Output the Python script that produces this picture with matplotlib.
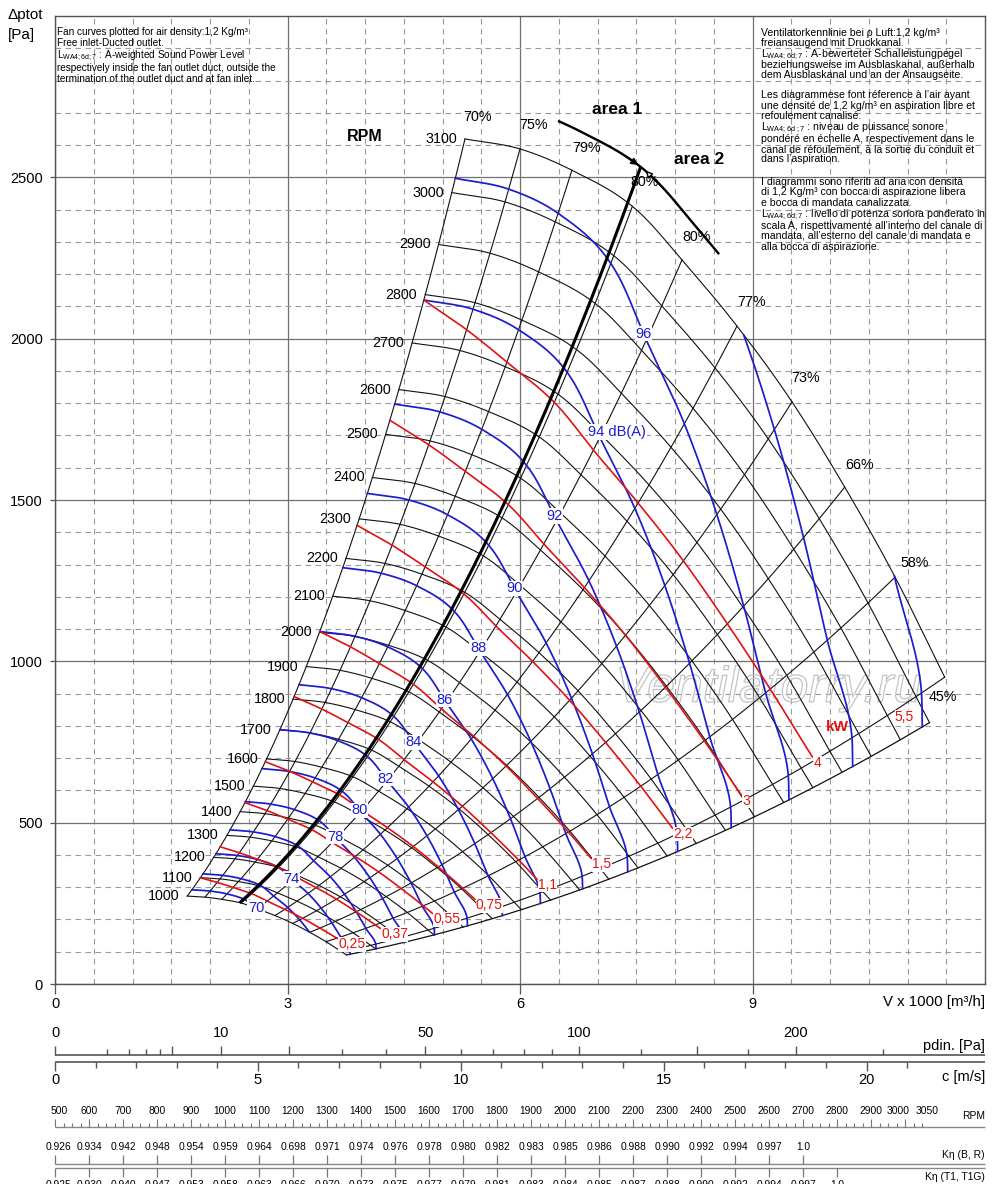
import numpy as np
import matplotlib
matplotlib.use('Agg')
import matplotlib.pyplot as plt
from matplotlib import patheffects, font_manager
from matplotlib.font_manager import FontProperties
from matplotlib.transforms import blended_transform_factory

plt.rcParams['font.family'] = ['Liberation Sans', 'DejaVu Sans']
plt.rcParams['mathtext.fontset'] = 'custom'
plt.rcParams['mathtext.rm'] = 'Liberation Sans'
plt.rcParams['mathtext.it'] = 'Liberation Sans:italic'
plt.rcParams['mathtext.bf'] = 'Liberation Sans:bold'

# ------------------------------------------------------------------ data
TOP_RPM = 3100
RPM_CURVES = list(range(1000, 3101, 100))
# fan curve at 3100 rpm (V x1000 m3/h, Pa)
BASE_FLOW = [5.29, 6.00, 6.67, 7.55, 8.09, 8.80, 9.51, 10.19, 10.84, 11.48, 11.66]
BASE_PRESSURE = [2619, 2588, 2522, 2389, 2244, 2039, 1804, 1540, 1261, 951, 865]
TOP_CURVE_END_FLOW = 11.48
BOTTOM_LINE_RPM = [1000, 3000]

# efficiency lines (where they meet the 3100 rpm curve)
EFF_FLOW = [5.29, 6.00, 6.67, 7.45, 8.09, 8.80, 9.51, 10.19, 10.84, 11.48]
EFF_LABELS = ['70%', '75%', '79%', '80%', '80%', '77%', '73%', '66%', '58%', '45%']

# area 1 / area 2 separation
AREA_LINE_FLOW = 7.39
AREA_ARC_RPM = 3170
AREA_ARC_FLOW = [6.36, 8.37]

# sound power level lines dB(A)
SOUND_LEVELS = [70, 72, 74, 76, 78, 80, 82, 84, 86, 88, 90, 92, 94, 96, 98, 100]
SOUND_RPM_AT_STALL = [1035, 1119, 1217, 1324, 1440, 1565, 1701, 1845, 2002,
                      2176, 2362, 2568, 2789, 3027, 3290, 3577]
SOUND_LABELED = [70, 74, 78, 80, 82, 84, 86, 88, 90, 92, 94, 96]
SOUND_RISE_FLOW = [5.29, 6.00, 6.67, 7.55, 8.09, 8.80, 9.51, 10.19, 10.84, 11.48, 11.66]
SOUND_RISE_DB = [0.0, 0.02, 0.08, 0.40, 0.83, 1.35, 2.00, 2.70, 3.43, 4.05, 4.40]
SOUND_LABEL_FLOW = 8.04

# absorbed power lines kW
POWER_KW = ['0,25', '0,37', '0,55', '0,75', '1,1', '1,5', '2,2', '3', '4', '5,5']
POWER_RPM_AT_STALL = [1099, 1249, 1436, 1590, 1808, 2002, 2284, 2532, 2789, 3080]
POWER_END_FLOW = [10.85, 11.0, 11.1, 11.15, 11.25, 11.3, 11.4, 11.43, 11.45, 11.48]
POWER_LINE_SHOWN = [True, True, True, True, True, True, True, True, True, False]
POWER_FACTOR_FLOW = [5.29, 6.00, 6.67, 7.55, 8.09, 8.80, 9.51, 10.19, 10.84, 11.48, 11.66]
POWER_FACTOR = [1.0, 1.05, 1.09, 1.13, 1.15, 1.165, 1.175, 1.18, 1.18, 1.17, 1.165]

# lower scales
C_PER_KV = 1.91            # outlet velocity m/s per 1000 m3/h
PDIN_TICKS = [0, 1, 2, 3, 4, 5, 10, 20, 30, 40, 50, 60, 70, 80, 90, 100, 125, 150, 175, 200, 250]
PDIN_LONG = [0, 5, 10, 20, 50, 100, 150, 200]
PDIN_LABELS = [0, 10, 50, 100, 200]
C_TICKS = list(range(0, 22))
C_LABELS = [0, 5, 10, 15, 20]
RPM_SCALE_END = 3235
RPM_TICKS = list(range(500, 3051, 25))
RPM_LABELS = list(range(500, 3001, 100)) + [3050]
KETA_BR_RPM = list(range(500, 2701, 100))
KETA_BR = ['0.926', '0.934', '0.942', '0.948', '0.954', '0.959', '0.964', '0.698',
           '0.971', '0.974', '0.976', '0.978', '0.980', '0.982', '0.983', '0.985',
           '0.986', '0.988', '0.990', '0.992', '0.994', '0.997', '1.0']
KETA_T1_RPM = list(range(500, 2801, 100))
KETA_T1 = ['0.925', '0.930', '0.940', '0.947', '0.953', '0.958', '0.963', '0.966',
           '0.970', '0.973', '0.975', '0.977', '0.979', '0.981', '0.983', '0.984',
           '0.985', '0.987', '0.988', '0.990', '0.992', '0.994', '0.997', '1.0']

NOTES_EN = ['Fan curves plotted for air density:1,2 Kg/m³',
            'Free inlet-Ducted outlet.',
            r'L$_{\mathrm{WA4;6d;7}}$ : A-weighted Sound Power Level',
            'respectively inside the fan outlet duct, outside the',
            'termination of the outlet duct and at fan inlet.']
NOTES_OTHER = ['Ventilatorkennlinie bei ρ Luft:1,2 kg/m³',
               'freiansaugend mit Druckkanal.',
               r'L$_{\mathrm{WA4;6d;7}}$ : A-bewerteter Schalleistungpegel',
               'beziehungsweise im Ausblaskanal, außerhalb',
               'dem Ausblaskanal und an der Ansaugseite.',
               'Les diagrammese font réference à l’air ayant',
               'une densité de 1,2 kg/m³ en aspiration libre et',
               'refoulement canalisé.',
               r'L$_{\mathrm{WA4;6d\ ;7}}$ : niveau de puissance sonore',
               'pondéré en échelle A, respectivement dans le',
               'canal de réfoulement, à la sortie du conduit et',
               'dans l’aspiration.',
               'I diagrammi sono riferiti ad aria con densità',
               'di 1,2 Kg/m³ con bocca di aspirazione libera',
               'e bocca di mandata canalizzata.',
               r'L$_{\mathrm{WA4;6d;7}}$ : livello di potenza sonora ponderato in',
               'scala A, rispettivamente all’interno del canale di',
               'mandata, all’esterno del canale di mandata e',
               'alla bocca di aspirazione.']

# ------------------------------------------------------------------ style
W, H = 1000, 1184
BLUE = '#1c1ccc'
RED = '#e01212'
BLK = '#111111'
PT = 0.72  # points per pixel at 100 dpi
NOTES_EN_Y = [32, 43, 56, 68, 79]
NOTES_OTHER_Y = [33, 43, 55, 65, 75, 95, 106, 116, 128, 139, 149, 159,
                 182, 192, 203, 215, 226, 236, 247]
EFF_OFF_PX = [(13, -22), (13, -24), (15, -22), (12, -24), (15, -23), (15, -24),
              (14, -24), (15, -22), (20, -14), (-2, 20)]


def smooth(xs, ys, xq):
    xs = np.asarray(xs, float)
    ys = np.asarray(ys, float)
    xq = np.asarray(xq, float)
    h = np.diff(xs)
    d = np.diff(ys) / h
    m = np.empty_like(xs)
    m[1:-1] = (d[:-1] * h[1:] + d[1:] * h[:-1]) / (h[:-1] + h[1:])
    m[0], m[-1] = d[0], d[-1]
    i = np.clip(np.searchsorted(xs, xq) - 1, 0, len(xs) - 2)
    t = (xq - xs[i]) / h[i]
    return ((2 * t**3 - 3 * t**2 + 1) * ys[i] + (t**3 - 2 * t**2 + t) * h[i] * m[i]
            + (-2 * t**3 + 3 * t**2) * ys[i + 1] + (t**3 - t**2) * h[i] * m[i + 1])


def fan_point(v0, n):
    r = np.asarray(n, float) / TOP_RPM
    return np.asarray(v0, float) * r, smooth(BASE_FLOW, BASE_PRESSURE, v0) * r**2


def off(dx, dy):
    return (dx * PT, -dy * PT)


fig = plt.figure(figsize=(W / 100, H / 100), dpi=100)
fig.patch.set_facecolor('white')
ax = fig.add_axes([55 / W, 1 - 984 / H, 930 / W, 968 / H])
ax.set_xlim(0, 12)
ax.set_ylim(0, 3000)
ax.set_xticks([0, 3, 6, 9])
ax.set_yticks(range(0, 2501, 500))
ax.set_xticks([v for v in np.arange(0.5, 12, 0.5) if v % 3], minor=True)
ax.set_yticks([v for v in range(100, 3000, 100) if v % 500], minor=True)
ax.grid(True, which='major', color='#707070', lw=0.9)
ax.grid(True, which='minor', color='#9a9a9a', lw=0.8, ls=(0, (5, 4)))
ax.set_axisbelow(True)
ax.tick_params(which='minor', length=0)
ax.tick_params(axis='x', which='major', length=7.2, width=0.9, color='#555', pad=2, labelsize=10.5)
ax.tick_params(axis='y', which='major', length=3.6, width=0.9, color='#555', pad=5, labelsize=10.5)
for s in ax.spines.values():
    s.set_color('#555')
    s.set_linewidth(1.0)

# RPM curves
for n in RPM_CURVES:
    end = TOP_CURVE_END_FLOW if n == TOP_RPM else BASE_FLOW[-1]
    v0 = np.linspace(BASE_FLOW[0], end, 240)
    V, P = fan_point(v0, n)
    ax.plot(V, P, color=BLK, lw=0.8, zorder=2)
    ax.annotate(str(n), (V[0], P[0]), xytext=off(-8, 0), textcoords='offset points',
                ha='right', va='center', fontsize=10.3, zorder=6)
    if n == TOP_RPM:
        ax.annotate('RPM', (V[0], P[0]), xytext=off(-100, -2), textcoords='offset points',
                    ha='center', va='center', fontsize=11.5, fontweight='bold')

# efficiency lines
nn = np.linspace(1000, TOP_RPM, 120)
for v0, lab, o in zip(EFF_FLOW, EFF_LABELS, EFF_OFF_PX):
    V, P = fan_point(v0, nn)
    ax.plot(V, P, color=BLK, lw=0.8, zorder=2)
    ax.annotate(lab, (V[-1], P[-1]), xytext=off(*o), textcoords='offset points',
                ha='center', va='center', fontsize=10.3, zorder=6)

# lower boundary
nb = np.linspace(BOTTOM_LINE_RPM[0], BOTTOM_LINE_RPM[1], 120)
V, P = fan_point(BASE_FLOW[-1], nb)
ax.plot(V, P, color=BLK, lw=0.9, zorder=2)

# area separation line and arc
na = np.linspace(1000, AREA_ARC_RPM, 150)
V, P = fan_point(AREA_LINE_FLOW, na)
ax.plot(V, P, color='black', lw=2.2, zorder=4, solid_capstyle='butt')
va0 = np.linspace(AREA_ARC_FLOW[0], AREA_ARC_FLOW[1], 120)
V, P = fan_point(va0, AREA_ARC_RPM)
ax.plot(V, P, color='black', lw=1.7, zorder=4)
px, py = fan_point(AREA_LINE_FLOW, AREA_ARC_RPM)
s1 = fan_point(AREA_LINE_FLOW - 0.25, AREA_ARC_RPM)
e1 = fan_point(AREA_LINE_FLOW - 0.03, AREA_ARC_RPM)
s2 = fan_point(AREA_LINE_FLOW + 0.30, AREA_ARC_RPM)
e2 = fan_point(AREA_LINE_FLOW + 0.06, AREA_ARC_RPM)
ax.annotate('', xy=e1, xytext=s1, arrowprops=dict(arrowstyle='-|>', color='black', lw=1.2,
            mutation_scale=10, shrinkA=0, shrinkB=0), zorder=5)
ax.annotate('', xy=e2, xytext=s2, arrowprops=dict(arrowstyle='-|>', color='black', fc='white',
            lw=1.0, mutation_scale=10, shrinkA=0, shrinkB=0), zorder=5)
ax.annotate('area 1', (px, py), xytext=off(-24, -57), textcoords='offset points',
            ha='center', va='center', fontsize=12.5, fontweight='bold')
ax.annotate('area 2', (px, py), xytext=off(58, -7), textcoords='offset points',
            ha='center', va='center', fontsize=12.5, fontweight='bold')

# sound lines
v0 = np.linspace(BASE_FLOW[0], BASE_FLOW[-1], 900)
rise = smooth(SOUND_RISE_FLOW, SOUND_RISE_DB, v0)
rise_lab = float(smooth(SOUND_RISE_FLOW, SOUND_RISE_DB, SOUND_LABEL_FLOW))
box = dict(facecolor='white', edgecolor='none', pad=0.4)
for L, n0 in zip(SOUND_LEVELS, SOUND_RPM_AT_STALL):
    n = n0 * 10 ** (-rise / 55.0)
    ok = (n >= 1000) & (n <= TOP_RPM)
    V, P = fan_point(v0, n)
    ax.plot(np.where(ok, V, np.nan), P, color=BLUE, lw=1.25, zorder=3)
    if L in SOUND_LABELED:
        nl = min(max(n0 * 10 ** (-rise_lab / 55.0), 1000), TOP_RPM)
        lx, ly = fan_point(SOUND_LABEL_FLOW, nl)
        if L == 94:
            ax.annotate('94 dB(A)', (lx, ly), xytext=off(-9, 0), textcoords='offset points',
                        ha='left', va='center', fontsize=10.5, color=BLUE, bbox=box, zorder=7)
        else:
            ax.annotate(str(L), (lx, ly), ha='center', va='center', fontsize=10.5,
                        color=BLUE, bbox=box, zorder=7)

# power lines
for lab, n0, vend, shown in zip(POWER_KW, POWER_RPM_AT_STALL, POWER_END_FLOW, POWER_LINE_SHOWN):
    vr = np.linspace(BASE_FLOW[0], vend, 600)
    fac = smooth(POWER_FACTOR_FLOW, POWER_FACTOR, vr)
    n = n0 * fac ** (-1.0 / 3.0)
    ok = (n >= 1000) & (n <= TOP_RPM)
    V, P = fan_point(vr, n)
    if shown:
        ax.plot(np.where(ok, V, np.nan), P, color=RED, lw=1.2, zorder=3)
    ax.annotate(lab, (V[-1], P[-1]), xytext=off(1, 6), textcoords='offset points',
                ha='left', va='center', fontsize=10, color=RED,
                bbox=dict(facecolor='white', edgecolor='none', pad=0.2), zorder=7)
    if lab == '4':
        ax.annotate('kW', (V[-1], P[-1]), xytext=off(25, -30), textcoords='offset points',
                    ha='center', va='center', fontsize=11, color=RED, fontweight='bold', zorder=7)

# watermark
ax.text(0.767, 0.305, 'Ventilatorry.ru', transform=ax.transAxes, fontsize=36, style='italic',
        color=(1, 1, 1, 0), ha='center', va='center', zorder=1.5,
        path_effects=[patheffects.Stroke(linewidth=0.9, foreground='#c4c4c4')])

# notes
for t, y in zip(NOTES_EN, NOTES_EN_Y):
    fig.text(57 / W, 1 - y / H, t, ha='left', va='center', fontsize=7.2)
for t, y in zip(NOTES_OTHER, NOTES_OTHER_Y):
    fig.text(761 / W, 1 - y / H, t, ha='left', va='center', fontsize=7.6)

fig.text(8 / W, 1 - 15 / H, 'Δptot', ha='left', va='center', fontsize=11)
fig.text(8 / W, 1 - 35 / H, '[Pa]', ha='left', va='center', fontsize=11)
fig.text(985 / W, 1 - 1002 / H, 'V x 1000 [m³/h]', ha='right', va='center', fontsize=10.8)

# ------------------------------------------------------------------ lower scales
LINE = '#555555'


def strip(y_top, y_bot):
    a = fig.add_axes([55 / W, 1 - y_bot / H, 930 / W, (y_bot - y_top) / H])
    a.set_ylim(y_bot, y_top)
    a.axis('off')
    return a


def narrow_font():
    try:
        font_manager.findfont(FontProperties(family='Liberation Sans Narrow'),
                              fallback_to_default=False)
        return FontProperties(family='Liberation Sans Narrow', size=8.4)
    except Exception:
        return FontProperties(family='Liberation Sans', size=7.4)


NF = narrow_font()

# dynamic pressure
ap = strip(1015, 1058)
ap.set_xscale('function', functions=(lambda x: np.sqrt(np.clip(x, 0, None)), np.square))
pdin_max = 0.6 * (C_PER_KV * 12) ** 2
ap.set_xlim(0, pdin_max)
ap.hlines(1055, 0, pdin_max, color=LINE, lw=1.2, clip_on=False)
for v in PDIN_TICKS:
    ap.vlines(v, 1055 - (9 if v in PDIN_LONG else 6), 1055, color=LINE, lw=1.0, clip_on=False)
for v in PDIN_LABELS:
    ap.text(v, 1033, str(v), ha='center', va='center', fontsize=10.5)
tr = blended_transform_factory(ap.transAxes, ap.transData)
ap.text(1.0, 1046, 'pdin. [Pa]', transform=tr, ha='right', va='center', fontsize=10.5)

# velocity
ac = strip(1058, 1092)
ac.set_xlim(0, C_PER_KV * 12)
ac.hlines(1062, 0, C_PER_KV * 12, color=LINE, lw=1.2, clip_on=False)
for v in C_TICKS:
    ac.vlines(v, 1062, 1062 + (9 if v % 5 == 0 else 6), color=LINE, lw=1.0, clip_on=False)
for v in C_LABELS:
    ac.text(v, 1080, str(v), ha='center', va='center', fontsize=10.5)
tr = blended_transform_factory(ac.transAxes, ac.transData)
ac.text(1.0, 1077, 'c [m/s]', transform=tr, ha='right', va='center', fontsize=10.5)

# rpm
ar = strip(1100, 1130)
ar.set_xlim(500, RPM_SCALE_END)
ar.hlines(1127, 500, RPM_SCALE_END, color='#888', lw=1.0, clip_on=False)
for v in RPM_TICKS:
    ar.vlines(v, 1127 - (8 if v % 100 == 0 else 4), 1127, color='#777', lw=0.8, clip_on=False)
for v in RPM_LABELS:
    dx = {500: 4, 3000: -7, 3050: 5}.get(v, 0)
    ar.annotate(str(v), (v, 1111), xytext=off(dx, 0), textcoords='offset points',
                ha='center', va='center', fontproperties=NF)
tr = blended_transform_factory(ar.transAxes, ar.transData)
ar.text(1.0, 1116, 'RPM', transform=tr, ha='right', va='center', fontproperties=NF)

# efficiency correction (B, R)
ab = strip(1138, 1166)
ab.set_xlim(500, RPM_SCALE_END)
ab.hlines(1164, 500, RPM_SCALE_END, color='#888', lw=1.0, clip_on=False)
for v, t in zip(KETA_BR_RPM, KETA_BR):
    ab.vlines(v, 1155, 1164, color='#777', lw=0.9, clip_on=False)
    ab.annotate(t, (v, 1147), xytext=off(4 if v == 500 else 0, 0), textcoords='offset points',
                ha='center', va='center', fontproperties=NF)
tr = blended_transform_factory(ab.transAxes, ab.transData)
ab.text(1.0, 1155, 'Kη (B, R)', transform=tr, ha='right', va='center', fontproperties=NF)

# efficiency correction (T1, T1G)
at = strip(1166, 1184)
at.set_xlim(500, RPM_SCALE_END)
at.hlines(1168, 500, RPM_SCALE_END, color='#888', lw=1.0, clip_on=False)
for v, t in zip(KETA_T1_RPM, KETA_T1):
    at.vlines(v, 1168, 1177, color='#777', lw=0.9, clip_on=False)
    at.annotate(t, (v, 1180), xytext=off(4 if v == 500 else 0, 0), textcoords='offset points',
                ha='center', va='top', fontproperties=NF)
tr = blended_transform_factory(at.transAxes, at.transData)
at.text(1.0, 1177, 'Kη (T1, T1G)', transform=tr, ha='right', va='center', fontproperties=NF)

fig.savefig('out.png', dpi=100, facecolor='white')
